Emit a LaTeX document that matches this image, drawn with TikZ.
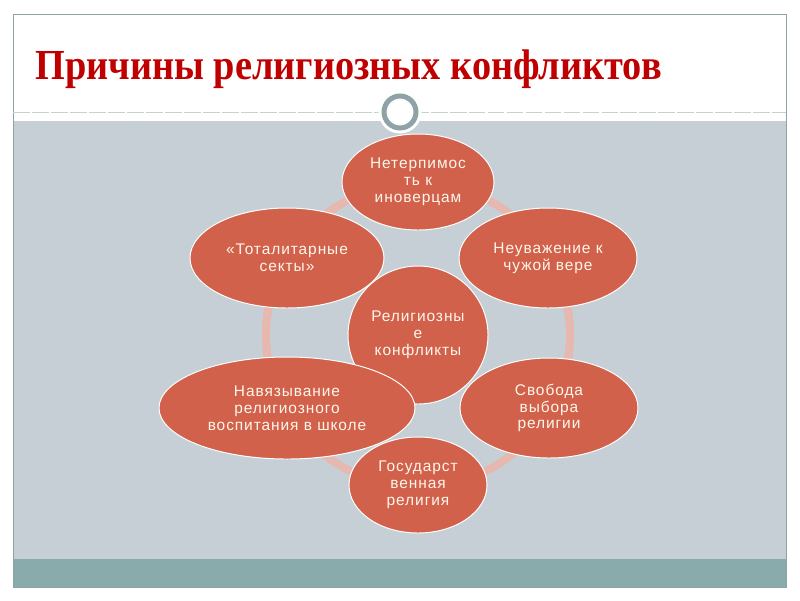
\documentclass[tikz,border=0pt]{standalone}
\usepackage{fontspec}
\setmainfont{Liberation Serif}
\newfontfamily\ovalfont[LetterSpace=6]{Liberation Sans}
\usetikzlibrary{shapes.geometric}
\definecolor{titlered}{HTML}{C00000}
\definecolor{ovalred}{HTML}{D1614A}
\definecolor{ovaltext}{HTML}{FFF6EC}
\definecolor{ringpink}{HTML}{E6B8B0}
\definecolor{slidegray}{HTML}{C5CFD5}
\definecolor{slideteal}{HTML}{8AABAB}
\definecolor{framegray}{HTML}{8FA2A5}
\begin{document}
\begin{tikzpicture}[x=0.025cm,y=-0.025cm,
    oval/.style={ellipse,draw=white,line width=0.7pt,fill=ovalred,inner sep=0pt,
        text=ovaltext,align=center,font=\ovalfont\fontsize{11}{12}\selectfont}]
    \def\px{0.025cm}%pixel
    \useasboundingbox (0,0) rectangle (800,600);
    % slide
    \fill[white] (0,0) rectangle (800,600);
    \fill[slidegray] (13,121) rectangle (786,559);
    \fill[slideteal] (13,559) rectangle (786,587);
    \draw[framegray] (13,14) rectangle (786,587);
    \draw[framegray!50,dash pattern=on 12pt off 1.5pt] (13,112)--(786,112);
    \draw[white,line width=11*\px] (400,112) circle (16);
    \draw[framegray,fill=white,line width=5*\px] (400,112) circle (16);
    \node[anchor=base west,inner sep=0pt,text=titlered,font=\fontsize{29}{34}\selectfont\bfseries] (title) at (35,79) {\scalebox{0.94}[1.05]{Причины религиозных конфликтов}};
    % ring + center
    \coordinate (mid) at (418,335);
    \draw[ringpink,line width=8*\px] (mid) circle (152);
    \node[oval,minimum width=140*\px,minimum height=138*\px] (rel) at (mid) {Религиозны\\е\\конфликты};
    \foreach \n/\x/\y/\w/\h/\t in {
        terp/418/182/152/96/Нетерпимос\\ть к\\иноверцам,
        neuv/548/258/178/100/Неуважение к\\чужой вере,
        svob/549/408/178/100/Свобода\\выбора\\религии,
        gos/418/485/138/96/Государст\\венная\\религия,
        navyaz/287/408/256/102/Навязывание\\религиозного\\воспитания в школе,
        sekty/287/258/194/100/«Тоталитарные\\секты»}
    \node[oval,minimum width=\w*\px,minimum height=\h*\px] (\n) at (\x,\y) {\t};
\end{tikzpicture}
\end{document}
